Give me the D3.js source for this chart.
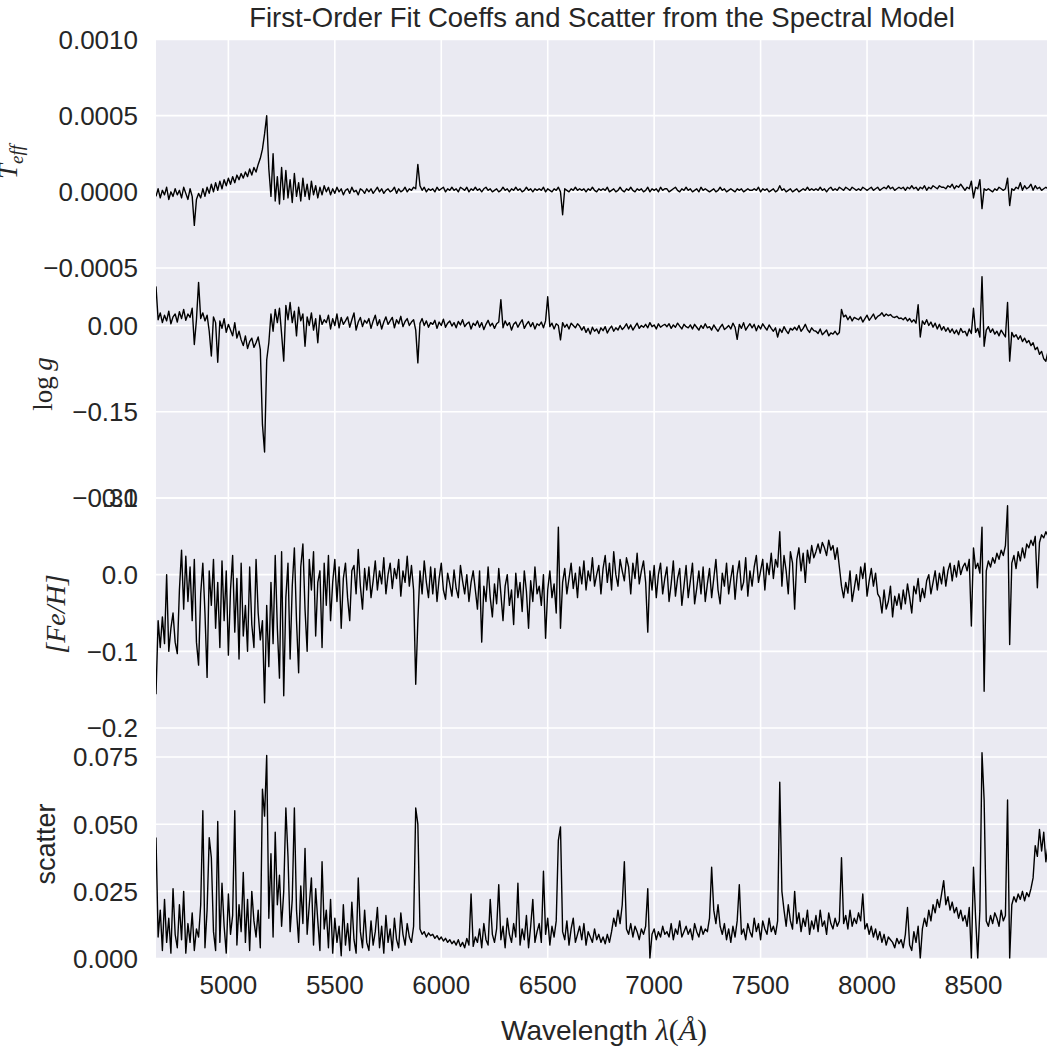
<!DOCTYPE html>
<html><head><meta charset="utf-8">
<script src="https://cdn.jsdelivr.net/npm/d3@7"></script>
<style>body{margin:0;background:#fff}</style>
</head><body>
<svg id="c" width="1047" height="1051"></svg>
<script>
// Wavelength grid (Angstrom): start and step of the sampled spectrum
const lambdaStart = 4660, lambdaStep = 10, lambdaEnd = 8850;
const xTicks = [5000, 5500, 6000, 6500, 7000, 7500, 8000, 8500];

// Teff coefficient, units of 1e-5
const teff = [
-3,2,-4,1,-2,3,-5,0,-3,2, -2,1,-4,3,-1,-5,2,-3,-22,-5, -1,-4,2,-3,3,-1,5,0,6,1, 7,2,8,4,9,5,10,6,11,8,
12,9,13,10,15,11,16,13,18,22, 28,38,50,15,-3,25,-6,10,-8,16, -5,14,-4,8,-7,12,-3,6,-6,9, -3,5,-5,7,-2,4,-4,3,-2,4,
0,3,-2,2,-1,3,0,2,-2,1, 2,-1,3,0,1,-2,2,1,-1,2, 0,2,-1,1,3,0,2,-1,1,2, 0,1,3,-1,2,0,1,3,0,2,
1,3,2,18,4,1,3,0,2,1, 2,0,3,1,2,3,0,2,1,3, 1,2,0,3,2,1,3,0,2,1, 3,1,2,0,2,3,1,2,0,1,
2,0,1,3,1,2,0,2,1,3, 1,2,0,1,3,1,2,0,2,1, 2,1,3,0,2,1,0,2,1,3, 0,-15,2,1,0,2,1,3,1,2,
1,2,0,2,1,3,1,0,2,1, 2,1,3,0,1,2,0,1,3,1, 0,2,1,3,1,0,2,1,2,0, 1,3,0,2,1,2,0,3,1,2,
2,0,1,2,3,1,0,2,1,3, 1,2,0,1,2,0,3,1,2,1, 0,1,2,0,1,3,1,2,0,1, 2,1,0,2,1,2,0,1,2,1,
1,2,1,3,0,2,1,2,0,1, 2,0,1,4,1,2,0,1,2,0, 1,2,0,1,2,1,3,1,2,1, 2,1,3,1,2,0,2,3,1,2,
1,3,2,1,3,2,1,3,2,1, 2,1,3,2,1,2,3,1,2,3, 1,2,3,2,4,2,3,1,2,3, 2,3,1,3,2,4,2,3,1,3,
2,4,1,3,2,4,3,2,4,3, 3,2,4,3,5,2,4,3,5,3, 1,3,2,7,-4,3,2,8,-11,2, 1,2,1,0,2,1,3,2,1,2,
9,-9,2,1,3,2,6,1,4,2, 3,5,1,4,2,3,1,2,3,2
];
// log g coefficient, units of 1e-3
const logg = [
68,10,22,5,18,8,25,3,15,20, 6,24,12,28,9,20,14,30,-33,10, 75,12,22,8,18,-10,-53,15,5,-64, 8,-5,12,-12,2,-8,-18,5,-22,-10,
-25,-35,-18,-40,-28,-22,-38,-30,-20,-42, -172,-220,-60,-30,20,-10,28,5,30,-15, -62,35,10,40,5,25,-18,32,8,20, -36,15,0,22,-8,12,-30,18,2,10,
5,18,-6,12,0,20,-4,14,2,8, 15,-3,10,22,-8,6,14,-2,9,4, 12,-5,8,18,0,10,-6,6,15,2, 8,14,-4,10,3,16,-2,7,12,0,
6,10,-8,-65,4,12,0,8,-3,5, 2,9,-5,6,0,11,-3,4,8,-1, 5,-4,7,1,10,-2,3,6,-6,4, 0,8,-3,5,-7,2,9,-1,4,-5,
3,6,45,-4,8,0,5,-8,2,6, -3,4,10,-5,2,7,-2,5,-6,3, 0,6,-4,8,50,-2,4,-6,3,0, -25,5,-3,2,-6,4,0,-4,3,-1,
-8,-2,-12,-5,-15,-3,-10,-6,-14,-4, -9,-2,-13,-6,-1,-10,-4,-8,0,-7, -3,3,-6,1,-8,-2,4,-5,0,-3, 2,-4,5,-2,1,-6,3,-3,0,2,
-2,3,-5,1,-3,4,-1,-6,2,-2, -4,1,-6,2,-3,-8,0,-5,3,-4, -2,-8,1,-5,-10,-3,2,-7,-4,0, -6,4,-3,-24,2,-5,5,-8,-2,3,
-4,2,-9,0,-6,3,-3,-8,1,-5, -10,-4,-20,-6,-12,-2,-9,-14,-5,-8, -3,-8,0,-10,-5,2,-7,-12,-4,-9, -10,-14,-6,-16,-12,-8,-18,-13,-15,-10,
-16,-12,28,15,18,10,16,8,14,12, 10,15,6,12,18,9,14,20,11,16, 18,22,16,20,17,19,15,14,16,12, 13,10,14,8,12,6,10,4,36,-20,
8,2,10,0,6,-3,4,-6,2,-8, -2,-10,-4,-12,-6,-14,-8,-16,-5,-12, -10,-18,-6,-14,30,-12,-5,-20,85,-36, -8,-2,-12,-6,-15,-10,-18,-8,-14,-20,
40,-62,-12,-20,-16,-24,-18,-28,-22,-30, -26,-35,-30,-42,-38,-50,-45,-58,-62,-45
];
// [Fe/H] coefficient, units of 1e-3
const feh = [
-156,-60,-95,-55,-90,0,-100,-70,-50,-88, -103,-20,32,-45,24,-35,10,-60,20,-88, -118,-25,15,-50,-134,5,-40,20,-70,-10, -95,18,-60,5,-105,-20,25,-75,-5,-110,
15,-80,-40,-100,10,-65,-95,20,-50,-85, -60,-167,-40,-120,-10,-90,25,-70,-135,30, -158,-30,15,-110,-15,35,-60,-128,10,40, -45,-100,20,-20,30,-80,-10,5,-95,15,
-40,25,-60,-10,20,-35,10,-70,-5,15, -30,-60,5,12,-25,33,-15,-45,8,-20, 10,-30,-8,18,-20,5,-12,22,-25,0, 15,-18,8,-5,20,-28,5,-10,24,-15,
12,-20,-143,-60,5,-25,18,-10,-30,10, -25,8,-35,-5,15,-20,-32,2,-12,-28, 6,-18,-30,12,-8,-25,0,-35,-10,5, -20,-45,5,-88,-15,-35,10,-30,-55,-12,
-38,8,-25,-60,-15,0,-40,-20,-65,2, -30,-10,-48,5,-22,-70,-8,-35,10,-25, -15,-40,0,-83,-20,5,-30,-12,-50,62, -70,-10,8,-25,-5,15,-18,2,-30,10,
-12,18,-20,5,-8,22,-15,0,12,-25, 8,25,-10,15,-20,30,0,-15,20,5, -8,22,10,-25,15,-5,28,-12,5,18, -10,-75,5,-20,12,-30,0,15,-25,-5,
10,-35,-12,18,-28,-5,8,-40,-15,12, -30,-8,15,-38,-18,5,-25,10,-35,-12, 8,-30,-5,20,-20,-38,2,-15,15,-25, -5,12,-32,0,18,-20,-10,22,-28,5,
-15,10,25,-10,5,20,-20,15,0,28, -5,20,10,56,-15,25,5,-25,30,15, -45,20,35,5,28,-10,32,15,38,22, 30,40,28,42,35,25,45,32,38,20,
35,10,-15,-30,-10,-24,5,-35,-18,0, -20,10,-5,15,-28,-8,8,-15,2,-25, -30,-50,-20,-45,-35,-15,-55,-28,-40,-25, -45,-20,-38,-12,-30,-50,-15,-25,-5,-35,
-18,-30,-8,0,-25,-10,5,-20,2,-12, 10,-15,5,15,-8,12,-3,18,0,10, 15,5,20,-67,35,8,15,2,62,-152, 5,18,10,22,15,28,20,32,25,38,
90,-91,15,25,8,30,18,35,22,40, 35,45,38,50,-17,42,52,48,56,50
];
// scatter, units of 1e-4
const scatter = [
450,80,180,30,220,60,150,20,260,90, 40,200,70,250,20,130,60,170,30,110, 80,200,550,40,180,450,375,100,30,510, 60,280,120,20,240,90,160,550,50,200,
100,320,60,220,30,250,140,80,180,40, 630,530,756,150,390,80,470,200,310,120, 250,560,380,100,220,560,180,60,270,130, 410,90,200,300,50,260,140,30,360,110,
180,40,220,20,150,60,120,10,200,50, 130,30,210,70,20,300,100,40,180,60, 30,140,50,100,190,40,120,20,160,60, 110,30,150,70,40,170,90,50,130,80,
60,120,560,500,110,90,100,80,95,85, 90,75,85,70,80,65,75,60,70,55, 65,50,70,45,60,40,75,50,240,45, 80,60,110,40,130,70,50,220,90,60,
110,275,70,120,40,150,90,60,130,80, 280,50,110,70,160,40,120,220,60,100, 130,60,325,90,150,50,120,80,140,440, 490,100,70,140,50,110,150,60,90,120,
70,130,50,100,80,60,110,70,90,60, 80,55,90,60,100,150,120,180,130,200, 360,110,90,130,80,120,100,70,110,90, 120,260,0,90,110,70,100,80,120,90,
100,80,130,70,110,90,140,80,100,120, 90,110,70,130,100,80,120,90,110,100, 150,340,180,130,200,120,90,130,70,110, 60,120,80,140,275,90,110,70,130,100,
80,150,100,130,70,140,110,90,150,100, 120,90,140,656,250,180,120,200,140,110, 250,130,170,100,150,120,180,90,140,110, 160,100,180,120,140,90,170,130,110,150,
120,140,375,130,160,110,180,120,150,130, 170,140,240,110,130,90,120,80,110,70, 100,60,90,50,80,70,60,40,75,55, 70,40,90,190,50,30,100,60,120,0,
110,150,120,180,140,200,170,220,190,240, 290,200,230,180,210,170,190,150,180,140, 160,120,190,0,340,150,0,180,766,590, 140,120,160,130,170,150,120,180,140,160,
590,0,200,230,210,240,220,250,215,245, 230,260,300,420,380,480,400,470,360,420
];

const teffTicks = [-0.0005, 0, 0.0005, 0.001];
const loggTicks = [-0.30, -0.15, 0];
const fehTicks = [-0.2, -0.1, 0, 0.1];
const scatterTicks = [0, 0.025, 0.05, 0.075];

const titleText = "First-Order Fit Coeffs and Scatter from the Spectral Model";

const wavelength = d3.range(teff.length).map(i => lambdaStart + i * lambdaStep);

const SANS = "'Liberation Sans', Arial, sans-serif";
const SERIF = "'Liberation Serif', 'DejaVu Serif', serif";
const TXT = "#262626";

const svg = d3.select("#c");
const plotLeft = 156, plotRight = 1048, plotTop = 39.5, plotBottom = 958.5;
const x = d3.scaleLinear().domain([lambdaStart, lambdaEnd]).range([plotLeft, plotRight]);

const panels = [
  {vals: teff, unit: 1e-5, domain: [-0.0005, 0.001], y0: 39.5, y1: 268, ticks: teffTicks, fmt: d3.format(".4f")},
  {vals: logg, unit: 1e-3, domain: [-0.3, 0.1], y0: 268, y1: 498, ticks: loggTicks, fmt: d3.format(".2f")},
  {vals: feh, unit: 1e-3, domain: [-0.2, 0.1], y0: 498, y1: 728, ticks: fehTicks, fmt: d3.format(".1f")},
  {vals: scatter, unit: 1e-4, domain: [0, 0.0858], y0: 728, y1: 958.5, ticks: scatterTicks, fmt: d3.format(".3f")}
];

svg.append("rect").attr("x", plotLeft).attr("y", plotTop)
  .attr("width", plotRight - plotLeft).attr("height", plotBottom - plotTop).attr("fill", "#EAEAF2");

const defs = svg.append("defs");
const gGrid = svg.append("g");
const gLines = svg.append("g");
const gText = svg.append("g").attr("font-family", SANS).attr("fill", TXT);

gGrid.selectAll("line.v").data(xTicks).join("line")
  .attr("x1", d => x(d)).attr("x2", d => x(d)).attr("y1", plotTop).attr("y2", plotBottom)
  .attr("stroke", "#fff").attr("stroke-width", 1.6);

panels.forEach((p, k) => {
  p.y = d3.scaleLinear().domain(p.domain).range([p.y1, p.y0]);
  gGrid.append("g").selectAll("line").data(p.ticks).join("line")
    .attr("x1", plotLeft).attr("x2", plotRight).attr("y1", d => p.y(d)).attr("y2", d => p.y(d))
    .attr("stroke", "#fff").attr("stroke-width", 1.6);
  defs.append("clipPath").attr("id", "clip" + k).append("rect")
    .attr("x", plotLeft).attr("y", p.y0).attr("width", plotRight - plotLeft).attr("height", p.y1 - p.y0);
  const line = d3.line().x((d, i) => x(wavelength[i])).y(d => p.y(d * p.unit));
  gLines.append("path").datum(p.vals).attr("d", line)
    .attr("fill", "none").attr("stroke", "#000").attr("stroke-width", 1.4)
    .attr("stroke-linejoin", "round").attr("clip-path", `url(#clip${k})`);
  gText.append("g").selectAll("text").data(p.ticks).join("text")
    .attr("x", 138).attr("y", d => p.y(d)).attr("dy", "0.36em")
    .attr("text-anchor", "end").attr("font-size", 26).text(d => p.fmt(d));
});

gText.append("g").selectAll("text").data(xTicks).join("text")
  .attr("x", d => x(d)).attr("y", 994).attr("text-anchor", "middle").attr("font-size", 26)
  .text(d => d3.format("d")(d));

gText.append("text").attr("x", (plotLeft + plotRight) / 2).attr("y", 27).attr("text-anchor", "middle")
  .attr("font-size", 27.5).text(titleText);

const xl = gText.append("text").attr("x", (plotLeft + plotRight) / 2 + 2).attr("y", 1040)
  .attr("text-anchor", "middle").attr("font-size", 28);
xl.append("tspan").text("Wavelength ");
xl.append("tspan").attr("font-family", SERIF).attr("font-style", "italic").attr("font-size", 30).text("λ");
xl.append("tspan").attr("font-family", SERIF).attr("font-size", 30).text("(");
xl.append("tspan").attr("font-family", SERIF).attr("font-style", "italic").attr("font-size", 30).text("Å");
xl.append("tspan").attr("font-family", SERIF).attr("font-size", 30).text(")");

const yl1 = gText.append("text").attr("transform", "translate(17,162) rotate(-90)")
  .attr("text-anchor", "middle").attr("font-family", SERIF).attr("font-size", 27);
yl1.append("tspan").attr("font-style", "italic").text("T");
yl1.append("tspan").attr("font-style", "italic").attr("font-size", 19).attr("dy", 6).text("eff");

const yl2 = gText.append("text").attr("transform", "translate(52,384) rotate(-90)")
  .attr("text-anchor", "middle").attr("font-family", SERIF).attr("font-size", 27);
yl2.append("tspan").text("log");
yl2.append("tspan").attr("font-style", "italic").text("\u2009g");

gText.append("text").attr("transform", "translate(65,614) rotate(-90)")
  .attr("text-anchor", "middle").attr("font-family", SERIF).attr("font-style", "italic").attr("font-size", 28)
  .text("[Fe/H]");

gText.append("text").attr("transform", "translate(55,844) rotate(-90)")
  .attr("text-anchor", "middle").attr("font-size", 27).text("scatter");
</script>
</body></html>
